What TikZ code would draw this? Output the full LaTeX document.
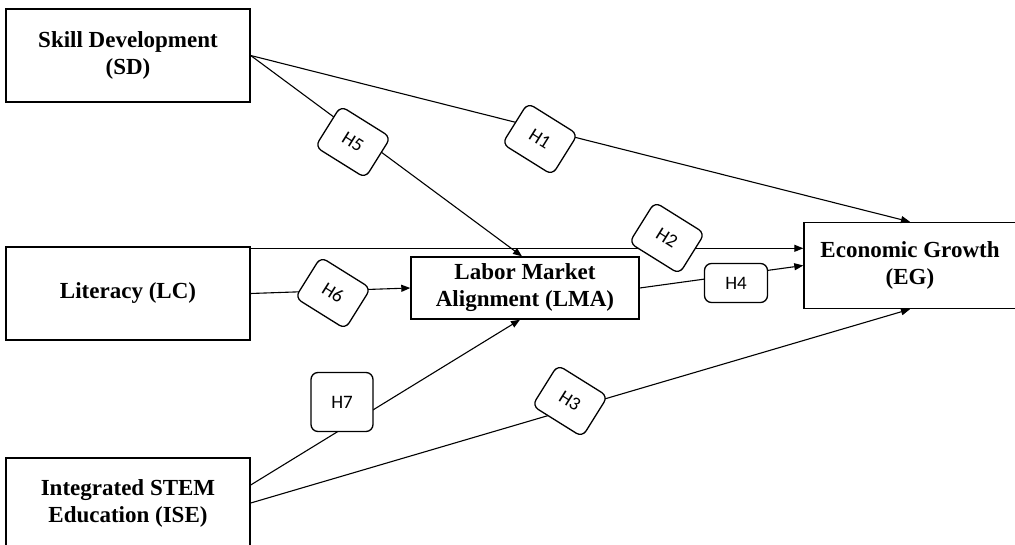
\documentclass[tikz,border=0pt]{standalone}
\usepackage{fontspec}
\setmainfont{Liberation Serif}
\newfontfamily\hypfont{Carlito}
\usetikzlibrary{arrows.meta,calc}
\begin{document}
\begin{tikzpicture}[x=1pt,y=-1pt,
  varbox/.style={draw,line width=1.4pt,align=center,font=\fontsize{23}{27}\selectfont\bfseries,inner sep=0pt},
  hyp/.style={draw,line width=1.3pt,rounded corners=7pt,fill=white,font=\hypfont\fontsize{19}{22}\selectfont,inner sep=0pt},
  tilt/.style={hyp,rotate=-32,minimum width=59pt,minimum height=48pt},
  conn/.style={line width=1.1pt},
  arr/.style={conn,-{Triangle[length=9pt,width=7pt]}}]
\useasboundingbox (0,0) rectangle (1015,545);
\clip (0,0) rectangle (1015,545);
% variable boxes
\node[varbox,minimum width=244pt,minimum height=93pt] (SD) at (128,55.5) {Skill Development\\(SD)};
\node[varbox,minimum width=244pt,minimum height=93pt] (LC) at (128,293.5) {Literacy (LC)};
\node[varbox,minimum width=244pt,minimum height=90pt] (ISE) at (128,503) {Integrated STEM\\Education (ISE)};
\node[varbox,minimum width=228pt,minimum height=62pt] (LMA) at (525,288) {Labor Market\\Alignment (LMA)};
\node[varbox,minimum width=212pt,minimum height=86pt] (EG) at (910,265.5) {Economic Growth\\(EG)};
% connectors
\draw[arr] (SD.east) -- (EG.north);
\draw[arr] (SD.east) -- ([xshift=-3pt]LMA.north);
\draw[arr] ([yshift=-2pt]LC.north east) coordinate (lct) -- (lct -| EG.west);
\draw[arr] (LC.east) -- (LMA.west);
\draw[arr] (LMA.east) -- (EG.west);
\draw[arr] ([yshift=18pt]ISE.east) -- ([xshift=-5pt]LMA.south);
\draw[arr] (ISE.east) -- (EG.south);
% hypothesis labels
\node[tilt] (H5) at (353,142) {H5};
\node[tilt] (H1) at (540,139) {H1};
\node[tilt] (H2) at (667,238) {H2};
\node[tilt] (H6) at (333,293) {H6};
\node[tilt] (H3) at (570,401) {H3};
\node[hyp,minimum width=63pt,minimum height=39pt] (H4) at (736,283) {H4};
\node[hyp,minimum width=62pt,minimum height=59pt] (H7) at (342,402) {H7};
\end{tikzpicture}
\end{document}
